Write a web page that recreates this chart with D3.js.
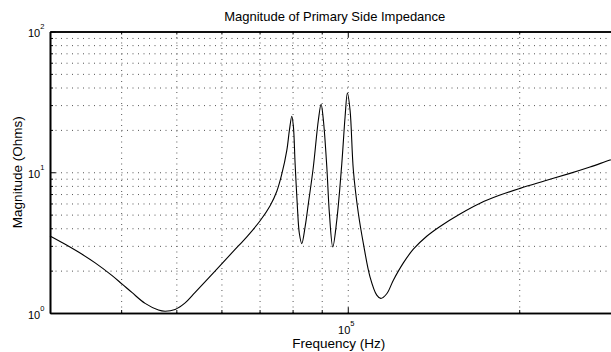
<!DOCTYPE html>
<html>
<head>
<meta charset="utf-8">
<script src="https://cdn.jsdelivr.net/npm/d3@7"></script>
<style>
    body { margin: 0; background: #fff; }
    text { font-family: "Liberation Sans", Arial, sans-serif; fill: #000; }
    .grid line { stroke: #555; stroke-width: 1; stroke-dasharray: 1,4.5; }
    .grid path { display: none; }
</style>
</head>
<body>
<svg width="611" height="352"></svg>
<script>
// frequency (Hz) and magnitude (Ohms)
let freq = [30000, 31900, 33660, 36010, 38520, 40120, 41770, 44070, 46510, 47780, 49750, 51810, 53950,
    58080, 62990, 66490, 70160, 73050, 75060, 76580, 78150, 78980, 79750, 80270, 80820, 81570, 82220,
    83030, 84150, 85270, 87000, 88780, 89770, 90610, 91870, 92840, 94120, 95650, 97610, 98910, 99840,
    100930, 102290, 104380, 106510, 109430, 112430, 114280, 117070, 120230, 125200, 130350, 137600,
    145210, 157440, 170740, 185080, 200700, 222000, 245560, 266280, 288740, 300000]
let magnitude = [3.53, 3.08, 2.71, 2.27, 1.85, 1.61, 1.40, 1.17, 1.05, 1.03, 1.06, 1.18, 1.40,
    1.93, 2.75, 3.48, 4.52, 5.78, 7.33, 9.68, 14.3, 19.9, 25.0, 21.0, 11.5, 5.67, 3.67,
    3.11, 4.09, 5.99, 10.9, 23.4, 30.4, 23.4, 10.9, 5.09, 2.95, 4.56, 11.5, 24.7, 36.6,
    27.6, 10.3, 5.09, 3.11, 1.80, 1.34, 1.27, 1.37, 1.71, 2.27, 2.84, 3.51,
    4.12, 5.05, 6.02, 6.88, 7.68, 8.69, 9.82, 10.9, 12.2, 12.8]

let xMajor = [1e5]
let xMajorExp = ['5']
let xMinor = [4e4, 5e4, 6e4, 7e4, 8e4, 9e4, 2e5]
let yMajor = [1, 10, 100]
let yMajorExp = ['0', '1', '2']
let yMinor = [2, 3, 4, 5, 6, 7, 8, 9, 20, 30, 40, 50, 60, 70, 80, 90]

let svg = d3.select('svg')
let plot = { left: 50, right: 619.5, top: 31.5, bottom: 313 }
let width = plot.right - plot.left
let height = plot.bottom - plot.top

let scale = {
    x: d3.scaleLog().domain([3e4, 3e5]).range([plot.left, plot.right]),
    y: d3.scaleLog().domain([1, 100]).range([plot.bottom, plot.top])
}

let data = freq.map((f, i) => ({ f: f, m: magnitude[i] }))

// grid
svg.append('g')
    .attr('class', 'grid')
    .attr('transform', `translate(0,${plot.bottom})`)
    .call(d3.axisBottom(scale.x).tickValues(xMinor.concat(xMajor)).tickSize(-height).tickFormat(''))
svg.append('g')
    .attr('class', 'grid')
    .attr('transform', `translate(${plot.left},0)`)
    .call(d3.axisLeft(scale.y).tickValues(yMinor.concat([10])).tickSize(-width).tickFormat(''))

// curve
let line = d3.line()
    .x(d => scale.x(d.f))
    .y(d => scale.y(d.m))
    .curve(d3.curveCatmullRom.alpha(0.5))

svg.append('path')
    .datum(data)
    .attr('fill', 'none')
    .attr('stroke', '#000')
    .attr('stroke-width', 1.1)
    .attr('d', line)

// axes, ticks pointing inwards
function frame(g) {
    g.select('.domain').attr('stroke-width', 1.6)
    g.selectAll('.tick line').attr('stroke', '#000')
}

let axis = {
    bottomMinor: d3.axisBottom(scale.x).tickValues(xMinor).tickSize(-3).tickSizeOuter(0).tickFormat(''),
    bottom: d3.axisBottom(scale.x).tickValues(xMajor).tickSize(-5.7).tickSizeOuter(0).tickFormat(''),
    topMinor: d3.axisTop(scale.x).tickValues(xMinor).tickSize(-3).tickSizeOuter(0).tickFormat(''),
    top: d3.axisTop(scale.x).tickValues(xMajor).tickSize(-5.7).tickSizeOuter(0).tickFormat(''),
    leftMinor: d3.axisLeft(scale.y).tickValues(yMinor).tickSize(-3).tickSizeOuter(0).tickFormat(''),
    left: d3.axisLeft(scale.y).tickValues(yMajor).tickSize(-5.7).tickSizeOuter(0).tickFormat('')
}

svg.append('g').attr('transform', `translate(0,${plot.bottom})`).call(axis.bottomMinor).call(frame)
let xAxis = svg.append('g').attr('transform', `translate(0,${plot.bottom})`).call(axis.bottom).call(frame)
svg.append('g').attr('transform', `translate(0,${plot.top})`).call(axis.topMinor).call(frame)
svg.append('g').attr('transform', `translate(0,${plot.top})`).call(axis.top).call(frame)
svg.append('g').attr('transform', `translate(${plot.left},0)`).call(axis.leftMinor).call(frame)
let yAxis = svg.append('g').attr('transform', `translate(${plot.left},0)`).call(axis.left).call(frame)

// tick labels as 10^n
yAxis.selectAll('.tick').each(function(d, i) {
    let t = d3.select(this).append('text')
        .attr('x', -5.7)
        .attr('y', 5)
        .attr('text-anchor', 'end')
        .attr('font-size', 11)
    t.append('tspan').text('10')
    t.append('tspan').attr('dy', -8).attr('font-size', 7.5).text(yMajorExp[i])
})

xAxis.selectAll('.tick').each(function(d, i) {
    let t = d3.select(this).append('text')
        .attr('x', -2)
        .attr('y', 20.7)
        .attr('text-anchor', 'middle')
        .attr('font-size', 11)
    t.append('tspan').text('10')
    t.append('tspan').attr('dy', -8).attr('font-size', 7.5).text(xMajorExp[i])
})

// title
svg.append('text')
    .attr('x', (plot.left + plot.right) / 2)
    .attr('y', 20.5)
    .attr('text-anchor', 'middle')
    .attr('font-size', 13)
    .text('Magnitude of Primary Side Impedance')

// X label
svg.append('text')
    .attr('x', (plot.left + plot.right) / 2 + 4)
    .attr('y', 348)
    .attr('text-anchor', 'middle')
    .attr('font-size', 13.5)
    .text('Frequency (Hz)')

// Y label
svg.append('text')
    .attr('x', -(plot.top + plot.bottom) / 2)
    .attr('y', 21.5)
    .attr('text-anchor', 'middle')
    .attr('transform', 'rotate(270)')
    .attr('font-size', 13.5)
    .text('Magnitude (Ohms)')
</script>
</body>
</html>
